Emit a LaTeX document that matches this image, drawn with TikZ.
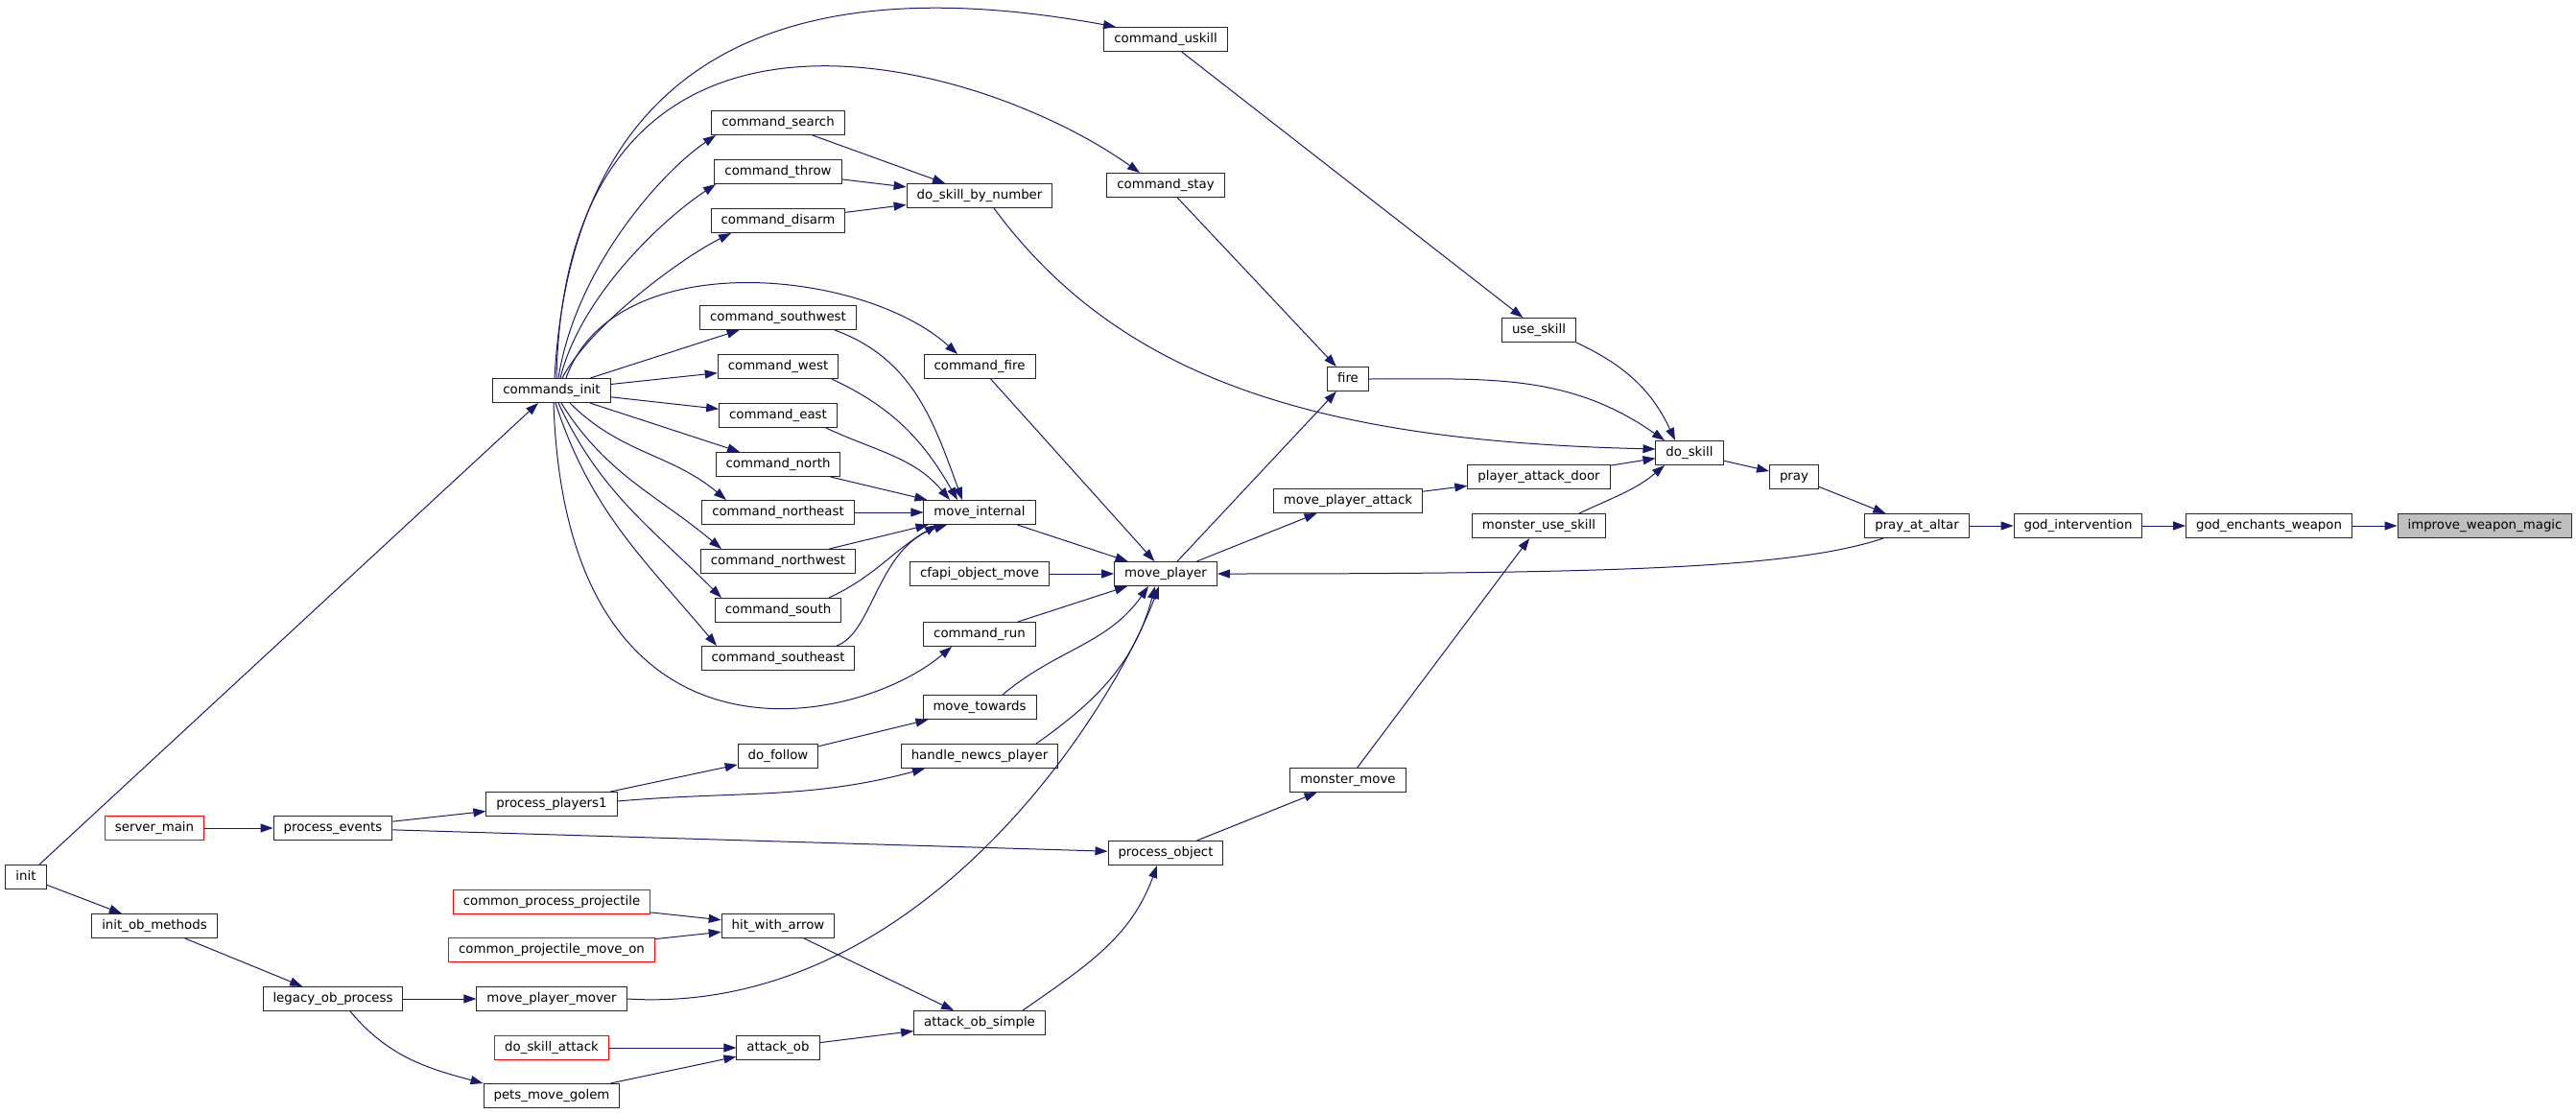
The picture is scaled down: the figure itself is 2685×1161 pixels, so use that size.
\documentclass[tikz,border=0pt]{standalone}
\usepackage{fontspec}
\setmainfont{DejaVu Sans}
\usetikzlibrary{arrows.meta}
\definecolor{callblue}{RGB}{25,25,112}

\begin{document}
\begin{tikzpicture}[x=1pt,y=1pt,
		fn/.style={draw=black!85, line width=1pt, fill=white, minimum height=25pt, inner xsep=10.5pt, inner ysep=0pt, text height=10pt, text depth=3pt, font=\fontsize{13.33}{16}\selectfont},
		fnred/.style={fn, draw=red},
		fnfocus/.style={fn, fill=black!25},
		call/.style={draw=callblue, line width=1pt, -{Triangle[length=13pt,width=9pt]}}]
		\useasboundingbox (0,0) rectangle (2685,-1161);
		\node[fn] (init) at (27,-914) {init};
		\node[fn] (cmdinit) at (575,-407) {commands\_init};
		\node[fn] (cmduskill) at (1215,-41) {command\_uskill};
		\node[fn] (cmdstay) at (1215,-193) {command\_stay};
		\foreach \nm/\lbl/\y in {cmdsearch/search/128, cmdthrow/throw/179, cmddisarm/disarm/230, cmdsw/southwest/331, cmdwest/west/382, cmdeast/east/433, cmdnorth/north/484, cmdne/northeast/534, cmdnw/northwest/585, cmdsouth/south/636, cmdse/southeast/686}
			\node[fn] (\nm) at (811,-\y) {command\_\lbl};
		\node[fn] (doskillnum) at (1021,-204) {do\_skill\_by\_number};
		\node[fn] (cmdfire) at (1021,-382) {command\_fire};
		\node[fn] (moveint) at (1021,-534) {move\_internal};
		\node[fn] (cfapi) at (1021,-598) {cfapi\_object\_move};
		\node[fn] (cmdrun) at (1021,-661) {command\_run};
		\node[fn] (movetowards) at (1021,-737) {move\_towards};
		\node[fn] (handlenewcs) at (1021,-788) {handle\_newcs\_player};
		\node[fn] (attacksimple) at (1021,-1066) {attack\_ob\_simple};
		\node[fn] (dofollow) at (811,-788) {do\_follow};
		\node[fn] (hitarrow) at (811,-965) {hit\_with\_arrow};
		\node[fn] (attackob) at (811,-1092) {attack\_ob};
		\node[fn] (procplayers) at (575,-838) {process\_players1};
		\node[fnred] (commonproc) at (575,-940) {common\_process\_projectile};
		\node[fnred] (commonmove) at (575,-990) {common\_projectile\_move\_on};
		\node[fn] (mpmover) at (575,-1041) {move\_player\_mover};
		\node[fnred] (doskillattack) at (575,-1092) {do\_skill\_attack};
		\node[fn] (petsgolem) at (575,-1142) {pets\_move\_golem};
		\node[fn] (procevents) at (347,-863) {process\_events};
		\node[fn] (legacy) at (347,-1041) {legacy\_ob\_process};
		\node[fnred] (servermain) at (161,-863) {server\_main};
		\node[fn] (initob) at (161,-965) {init\_ob\_methods};
		\node[fn] (moveplayer) at (1215,-598) {move\_player};
		\node[fn] (procobject) at (1215,-889) {process\_object};
		\node[fn] (fire) at (1405,-395) {fire};
		\node[fn] (mpattack) at (1405,-522) {move\_player\_attack};
		\node[fn] (monstermove) at (1405,-813) {monster\_move};
		\node[fn] (useskill) at (1604,-344) {use\_skill};
		\node[fn] (padoor) at (1604,-497) {player\_attack\_door};
		\node[fn] (monsteruse) at (1604,-548) {monster\_use\_skill};
		\node[fn] (doskill) at (1761,-472) {do\_skill};
		\node[fn] (pray) at (1870,-497) {pray};
		\node[fn] (prayaltar) at (1998,-548) {pray\_at\_altar};
		\node[fn] (godint) at (2166,-548) {god\_intervention};
		\node[fn] (godench) at (2365,-548) {god\_enchants\_weapon};
		\node[fnfocus] (improve) at (2590,-548) {improve\_weapon\_magic};

		\foreach \a/\b in {init/cmdinit, init/initob, initob/legacy, legacy/mpmover, servermain/procevents, procevents/procplayers, procevents/procobject, procplayers/dofollow, dofollow/movetowards, commonproc/hitarrow, commonmove/hitarrow, hitarrow/attacksimple, doskillattack/attackob, petsgolem/attackob, attackob/attacksimple, cmdinit/cmdsw, cmdinit/cmdwest, cmdinit/cmdeast, cmdinit/cmdnorth, cmdsearch/doskillnum, cmdthrow/doskillnum, cmddisarm/doskillnum, cmdnorth/moveint, cmdne/moveint, cmdnw/moveint, moveint/moveplayer, cmdfire/moveplayer, cfapi/moveplayer, cmdrun/moveplayer, moveplayer/fire, moveplayer/mpattack, mpattack/padoor, padoor/doskill, cmduskill/useskill, cmdstay/fire, procobject/monstermove, monstermove/monsteruse, doskill/pray, pray/prayaltar, prayaltar/godint, godint/godench, godench/improve}
			\draw[call] (\a) -- (\b);

		\draw[call] ([xshift=3pt]cmdinit.north) .. controls +(22,395) and +(-263,48) .. ([xshift=-52pt]cmduskill.north);
		\draw[call] ([xshift=5pt]cmdinit.north) .. controls +(10,455) and +(-168,120) .. ([xshift=-27pt]cmdstay.north);
		\draw[call] ([xshift=7pt]cmdinit.north) .. controls +(18,115) and +(-56,-38) .. ([xshift=-65pt]cmdsearch.south);
		\draw[call] ([xshift=9pt]cmdinit.north) .. controls +(21,85) and +(-56,-37) .. ([xshift=-65pt]cmdthrow.south);
		\draw[call] ([xshift=11pt]cmdinit.north) .. controls +(29,55) and +(-52,-26) .. ([xshift=-49pt]cmddisarm.south);
		\draw[call] ([xshift=15pt]cmdinit.north) .. controls +(50,140) and +(-98,89) .. ([xshift=-23pt]cmdfire.north);
		\draw[call] ([xshift=19pt]cmdinit.south) to[out=-45,in=140] ([xshift=-54pt]cmdne.north);
		\draw[call] ([xshift=10pt]cmdinit.south) to[out=-58,in=140] ([xshift=-59pt]cmdnw.north);
		\draw[call] ([xshift=7pt]cmdinit.south) to[out=-65,in=135] ([xshift=-59pt]cmdsouth.north);
		\draw[call] ([xshift=4pt]cmdinit.south) to[out=-72,in=130] ([xshift=-64pt]cmdse.north);
		\draw[call] ([xshift=2pt]cmdinit.south) .. controls +(13,-399) and +(-102,-86) .. ([xshift=-29pt]cmdrun.south);

		\draw[call] ([xshift=59pt]cmdsw.south) to[out=-20,in=110] ([xshift=-18pt]moveint.north);
		\draw[call] ([xshift=56pt]cmdwest.south) to[out=-25,in=120] ([xshift=-23pt]moveint.north);
		\draw[call] ([xshift=50pt]cmdeast.south) to[out=-25,in=130] ([xshift=-31pt]moveint.north);
		\draw[call] ([xshift=53pt]cmdsouth.north) to[out=25,in=-150] ([xshift=-44pt]moveint.south);
		\draw[call] ([xshift=61pt]cmdse.north) .. controls +(38,13) and +(-72,-22) .. ([xshift=-34pt]moveint.south);

		\draw[call] ([xshift=24pt]movetowards.north) to[out=40,in=-125] ([xshift=-18pt]moveplayer.south);
		\draw[call] ([xshift=59pt]handlenewcs.north) to[out=35,in=-105] ([xshift=-11pt]moveplayer.south);
		\draw[call] (mpmover.east) .. controls +(307,-19) and +(-48,-128) .. ([xshift=-7pt]moveplayer.south);
		\draw[call] ([xshift=-35pt]prayaltar.south) .. controls +(-90,-30) and +(430,0) .. (moveplayer.east);

		\draw[call] (useskill.south east) to[out=-25,in=115] ([xshift=-15pt]doskill.north);
		\draw[call] (fire.east) to[out=0,in=145] ([xshift=-26pt]doskill.north);
		\draw[call] ([xshift=15pt]doskillnum.south) .. controls +(134,-182) and +(-344,8) .. ([yshift=4pt]doskill.west);
		\draw[call] ([xshift=42pt]monsteruse.north) to[out=25,in=-140] ([xshift=-26pt]doskill.south);

		\draw[call] ([xshift=18pt]legacy.south) to[out=-50,in=165] (petsgolem.north west);
		\draw[call] ([xshift=45pt]attacksimple.north) to[out=35,in=-110] ([xshift=-9pt]procobject.south);
		\draw[call] ([yshift=3pt]procplayers.east) to[out=5,in=-165] ([xshift=-57pt]handlenewcs.south);
	\end{tikzpicture}
\end{document}
